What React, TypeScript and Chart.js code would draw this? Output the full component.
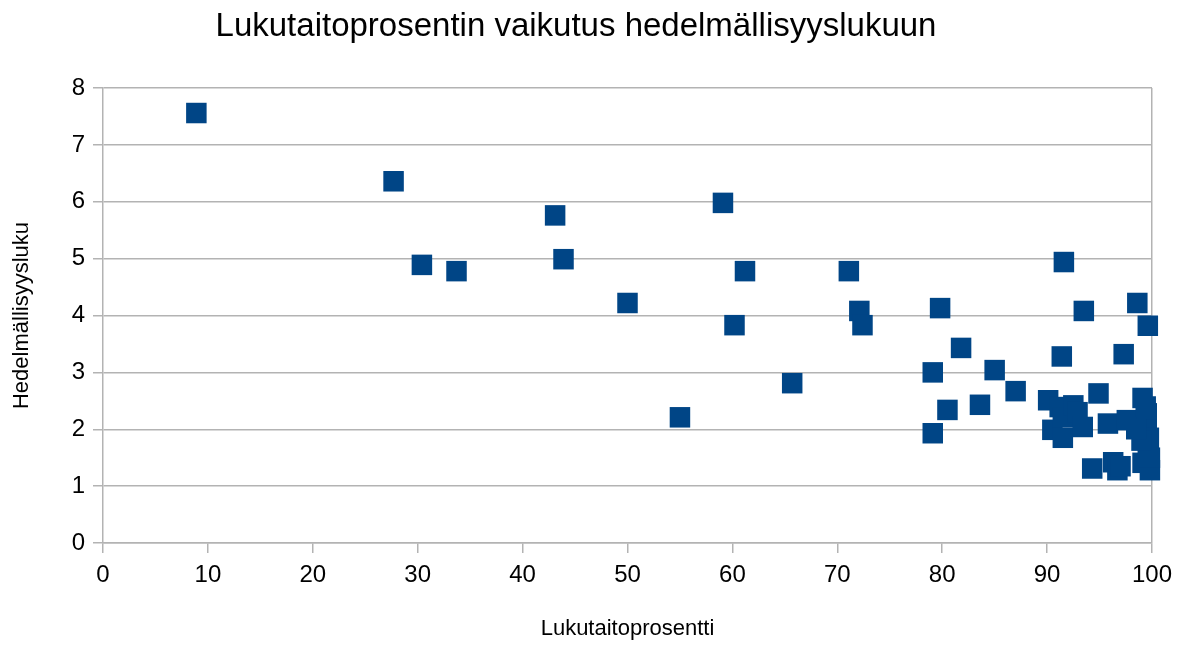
import React, { useEffect, useRef } from "react";
import { Chart, registerables } from "chart.js";

Chart.register(...registerables);

const TITLE = "Lukutaitoprosentin vaikutus hedelmällisyyslukuun";
const X_TITLE = "Lukutaitoprosentti";
const Y_TITLE = "Hedelmällisyysluku";

const literacy: number[] = [
  8.9, 27.7, 30.4, 33.7, 43.1, 43.9, 50.0, 55.0, 59.1, 60.2, 61.2, 65.7, 71.1, 72.1, 72.4,
  79.1, 79.8, 79.1, 80.5, 81.8, 83.6, 85.0, 87.0,
  90.1, 90.5, 91.2, 91.5, 91.5, 91.4, 91.6, 92.5, 92.9, 93.4, 93.5, 94.3, 94.9, 95.8, 96.3,
  96.7, 97.3, 97.6, 98.6, 99.1, 99.1, 99.5, 99.5, 99.5, 99.6, 99.6, 99.8, 99.7, 99.8, 99.0,
  98.5, 97.0, 99.4,
];
const fertility: number[] = [
  7.56, 6.36, 4.89, 4.78, 5.76, 4.99, 4.22, 2.21, 5.98, 3.83, 4.78, 2.81, 4.78, 4.08, 3.83,
  3.0, 4.13, 1.93, 2.34, 3.43, 2.43, 3.04, 2.67,
  2.51, 1.99, 2.39, 2.21, 1.85, 3.28, 4.94, 2.42, 2.3, 2.04, 4.08, 1.31, 2.63, 2.1, 1.42,
  1.28, 3.32, 2.16, 4.22, 2.55, 1.41, 2.28, 2.11, 1.99, 1.69, 3.82, 1.28, 1.85, 1.5, 1.8,
  2.0, 1.35, 2.4,
];

const X_MIN = 0, X_MAX = 100, X_STEP = 10;
const Y_MIN = 0, Y_MAX = 8, Y_STEP = 1;

export default function App() {
  const ref = useRef<HTMLCanvasElement | null>(null);
  useEffect(() => {
    if (!ref.current) return;
    const FONT = "'Liberation Sans', Arial, sans-serif";
    const grid = "#b3b3b3";
    const chart = new Chart(ref.current, {
      type: "scatter",
      data: {
        datasets: [
          {
            label: "Hedelmällisyysluku",
            data: literacy.map((x, i) => ({ x, y: fertility[i] })),
            pointStyle: "rect",
            pointRadius: 14.5,
            pointHoverRadius: 14.5,
            backgroundColor: "#004586",
            borderColor: "#004586",
            borderWidth: 0,
            clip: false,
          } as any,
        ],
      },
      options: {
        animation: false,
        responsive: true,
        maintainAspectRatio: false,
        layout: { padding: { left: 0, right: 32, top: 0, bottom: 0 } },
        plugins: {
          legend: { display: false },
          tooltip: { enabled: false },
          title: {
            display: true,
            text: TITLE,
            color: "#000",
            font: { family: FONT, size: 33, weight: "normal" },
            padding: { top: 7, bottom: 41.4 },
          },
        },
        scales: {
          x: {
            type: "linear",
            min: X_MIN,
            max: X_MAX,
            ticks: { stepSize: X_STEP, color: "#000", font: { family: FONT, size: 24 }, padding: 8 },
            grid: {
              color: (ctx: any) => (ctx.tick && ctx.tick.value === X_MAX ? grid : "rgba(0,0,0,0)"),
              tickColor: grid,
              tickLength: 10,
              lineWidth: 1.5,
            },
            border: { display: true, color: grid, width: 1.5 },
            title: {
              display: true,
              text: X_TITLE,
              color: "#000",
              font: { family: FONT, size: 22 },
              padding: { top: 0, bottom: 4 },
            },
            afterFit: (s: any) => {
              s.height = 103;
            },
          },
          y: {
            type: "linear",
            min: Y_MIN,
            max: Y_MAX,
            ticks: { stepSize: Y_STEP, color: "#000", font: { family: FONT, size: 24 }, padding: 8 },
            grid: { color: grid, tickColor: grid, tickLength: 10, lineWidth: 1.5 },
            border: { display: true, color: grid, width: 1.5 },
            title: {
              display: true,
              text: Y_TITLE,
              color: "#000",
              font: { family: FONT, size: 22 },
              padding: { top: 9, bottom: 0 },
            },
            afterFit: (s: any) => {
              s.width = 103;
            },
          },
        },
      },
    });
    return () => chart.destroy();
  }, []);
  return (
    <div style={{ position: "fixed", left: 0, top: 0, width: 1184, height: 646, background: "#fff" }}>
      <canvas ref={ref} />
    </div>
  );
}
